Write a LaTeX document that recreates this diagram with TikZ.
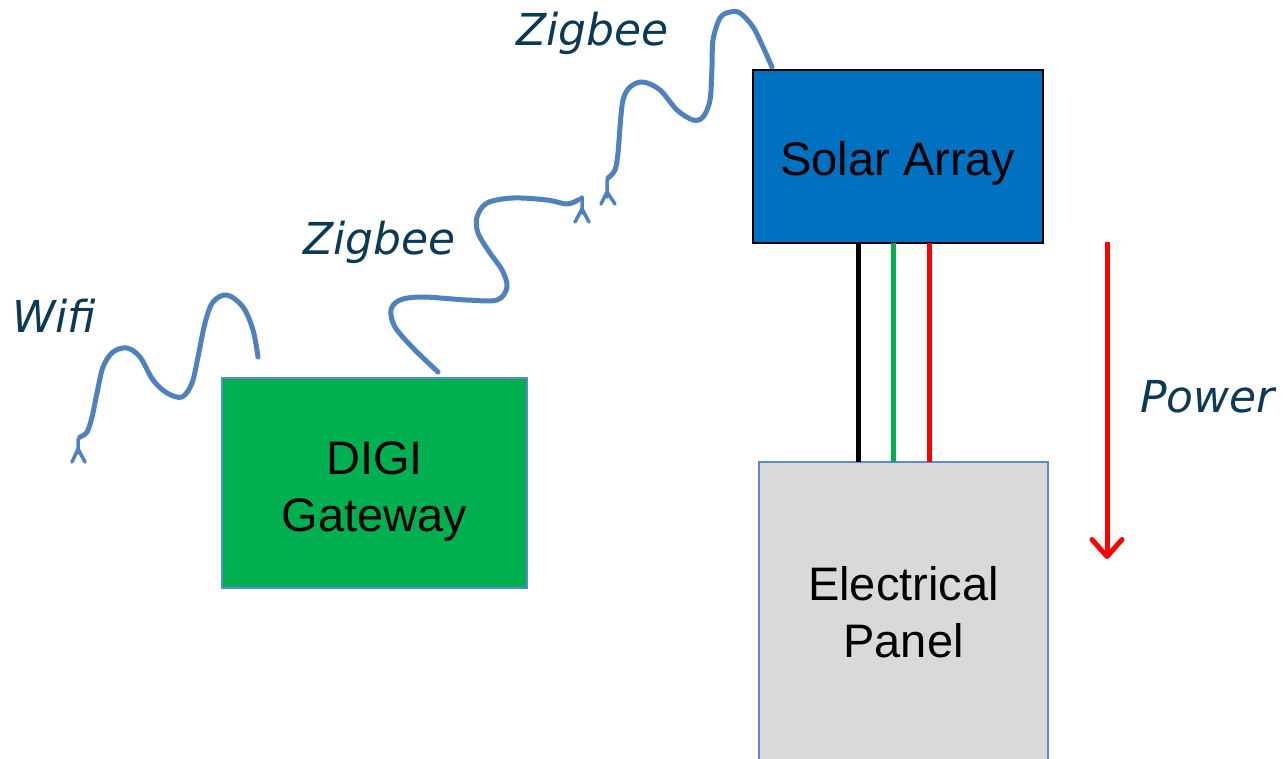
\documentclass[tikz,border=0pt]{standalone}
\usepackage{fontspec}
\setmainfont{Liberation Sans}
\newfontfamily\lblfont{DejaVu Sans}
\usetikzlibrary{arrows.meta}
\definecolor{solarblue}{HTML}{0070C0}
\definecolor{gwgreen}{HTML}{00B050}
\definecolor{panelgrey}{HTML}{D9D9D9}
\definecolor{wavyblue}{HTML}{4F81BD}
\definecolor{edgeblue}{HTML}{5B8BC9}
\definecolor{navy}{HTML}{0C3A55}
\definecolor{wiregreen}{HTML}{00B050}
\definecolor{wirered}{HTML}{FF0000}
\tikzset{
  box/.style={rectangle, inner sep=0pt, outer sep=0pt},
  boxtext/.style={inner sep=0pt, align=center, font=\fontsize{47}{57}\selectfont},
  lbl/.style={inner sep=0pt, anchor=base west, text=navy, font=\lblfont\itshape\fontsize{44}{50}\selectfont},
  wavy/.style={draw=wavyblue, line width=5pt, line cap=round, line join=round},
  barb/.style={draw=wavyblue, line width=3.5pt, line cap=round, line join=round},
  wire/.style={line width=5pt},
}
\begin{document}
\begin{tikzpicture}[x=1pt,y=-1pt]
\useasboundingbox (0,0) rectangle (1287,758);
% boxes
\node[box, fill=solarblue, draw=black, line width=2pt, minimum width=290pt, minimum height=173pt] (sa) at (898,156.5) {};
\node[boxtext] (satext) at (898,163) {Solar Array};
\node[box, fill=gwgreen, draw=edgeblue, line width=1.5pt, minimum width=305pt, minimum height=210pt] (gw) at (374.5,483) {};
\node[boxtext] (gwtext) at (374.5,491) {DIGI\\Gateway};
\node[box, fill=panelgrey, draw=edgeblue, line width=1.5pt, minimum width=289pt, minimum height=300pt] (ep) at (903.5,612) {};
\node[boxtext] (eptext) at (903.5,612) {Electrical\\Panel};
% wires
\coordinate (w1) at (858,0);
\coordinate (w2) at (893,0);
\coordinate (w3) at (929,0);
\draw[wire, black] (sa.south -| w1) -- (ep.north -| w1);
\draw[wire, wiregreen] (sa.south -| w2) -- (ep.north -| w2);
\draw[wire, wirered] (sa.south -| w3) -- (ep.north -| w3);
% power arrow
\coordinate (pwrTop) at (1107,242);
\coordinate (pwrTip) at (1107,559);
\draw[wirered, line width=5pt, -{Straight Barb[length=17pt,width=30pt,line width=5pt,round]}] (pwrTop) -- (pwrTip);
% labels
\node[lbl] (wifi) at (12,332) {Wifi};
\node[lbl] (zig1) at (303,254) {Zigbee};
\node[lbl] (zig2) at (516,45) {Zigbee};
\node[lbl] (power) at (1140,412) {Power};
% wifi wave
\coordinate (wifiStart) at (258,357);
\coordinate (wifiEnd) at (78,453);
\draw[wavy] plot[smooth, tension=0.55] coordinates {(258,357) (253,330) (243,307) (227,295) (213,302) (205,323) (198,357) (192,383) (182,397) (167,393) (153,380) (140,357) (127,348) (113,352) (103,367) (97,393) (92,417) (87,432) (80,437)};
\draw[barb] (80,437) -- (78,440) -- (wifiEnd);
\draw[barb] (72,462) -- (78,449) -- (85,462);
% lower zigbee wave
\coordinate (zig1Start) at (438,372);
\coordinate (zig1End) at (582,213);
\draw[wavy] plot[smooth, tension=0.55] coordinates {(438,372) (413,348) (395,327) (391,310) (400,300) (423,297) (467,300) (497,300) (507,287) (502,270) (490,253) (478,233) (477,217) (487,203) (513,198) (547,200) (567,204) (578,200)};
\draw[barb] (578,200) -- (582,197) -- (zig1End);
\draw[barb] (575,222) -- (582,209) -- (589,222);
% upper zigbee wave
\coordinate (zig2Start) at (772,67);
\coordinate (zig2End) at (607,197);
\draw[wavy] plot[smooth, tension=0.55] coordinates {(772,67) (763,47) (753,27) (740,13) (730,12) (720,18) (713,40) (712,67) (710,100) (703,117) (693,120) (677,110) (660,90) (643,82) (630,87) (623,100) (620,127) (618,153) (615,170) (608,178)};
\draw[barb] (608,178) -- (607,181) -- (zig2End);
\draw[barb] (601,204) -- (607,192) -- (615,204);
\end{tikzpicture}
\end{document}
